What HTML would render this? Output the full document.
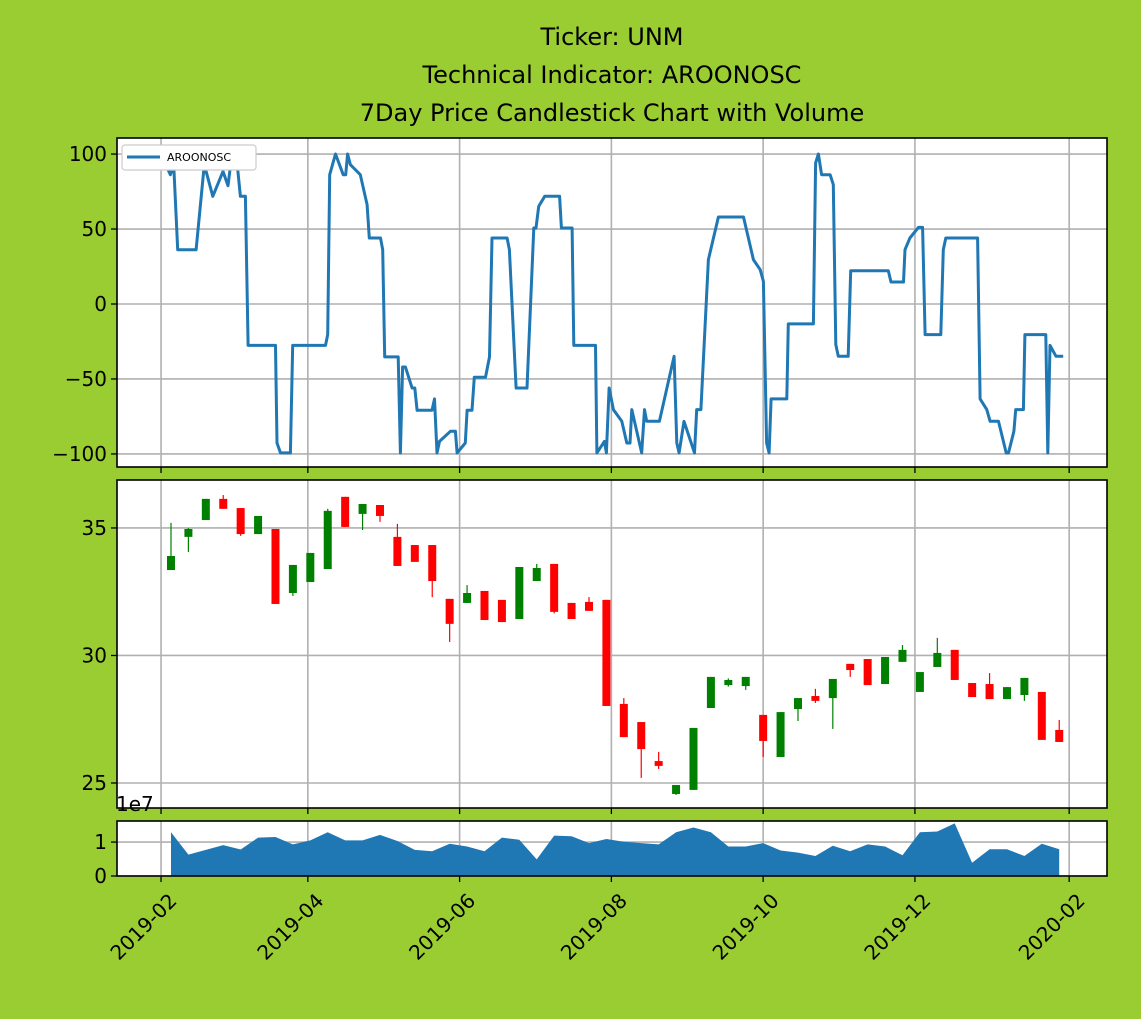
<!DOCTYPE html>
<html><head><meta charset="utf-8"><style>
html,body{margin:0;padding:0;background:#9acd32;}
svg{display:block;font-family:"DejaVu Sans","Liberation Sans",sans-serif;}
</style></head><body>
<svg id="chart" width="1141" height="1019" xmlns="http://www.w3.org/2000/svg">
<rect width="1141" height="1019" fill="#9acd32"/>
<g font-size="24" text-anchor="middle" fill="#000">
<text x="612" y="45">Ticker: UNM</text>
<text x="612" y="83">Technical Indicator: AROONOSC</text>
<text x="612" y="121">7Day Price Candlestick Chart with Volume</text>
</g>
<g id="top"></g><g id="mid"></g><g id="vol"></g><g id="xlab"></g>
</svg>
<script>
// ---- data ----
const aroonDays=[0,3.75,5.1,6.7,14.1,17.4,20.8,24.9,26.9,28.1,30.5,31.9,33.9,35,46,46.6,48,52,52.9,66.1,67,67.8,70.1,73.2,74.2,75,76.1,80.1,82.8,83.7,88.2,89.1,89.9,95.3,96.2,97.1,98.2,100.9,102,102.9,108.9,109.9,110.9,111.9,116.3,118.3,119,122.3,123,125,125.9,130.4,132,133,139.1,140,142.7,147.1,149.8,150.7,151.8,154.2,160.2,160.9,165.2,165.9,174.6,175.2,178.2,179,180.1,181.8,185.2,187.2,188.5,189.2,193.2,194.3,195.2,200.3,206.2,207.3,208.2,210.2,214.4,215.3,217,220,224,234.1,238.1,240.8,242.1,243.4,244.4,245.2,251.5,252.1,262.2,263.1,264.2,265.5,268.9,270.2,271.2,272.2,276.2,277.2,292.3,293.4,298.4,299,301,304.4,306.1,307.1,313.4,314.4,315.4,328.2,329.2,331.9,333.2,336.6,339.7,340.6,342.8,343.5,346.6,347.2,355.6,356.4,357.3,359.7,362.6];
const aroonVals=[100,86.2,92.9,36.2,36.2,92.9,71.8,88.4,78.9,95.1,95.1,71.8,71.8,-27.6,-27.6,-92.7,-99.3,-99.3,-27.6,-27.6,-20.4,86.2,100,86.2,86.2,100,92.9,86.2,66.2,44,44,36.2,-35.3,-35.3,-99.3,-42,-42,-56,-56,-70.9,-70.9,-63.3,-99.3,-91.6,-84.9,-84.9,-99.3,-92.7,-70.9,-70.9,-48.9,-48.9,-35.3,44,44,36.2,-56,-56,50.7,50.7,65.1,71.8,71.8,50.7,50.7,-27.6,-27.6,-99.3,-91.6,-99.3,-56,-70.4,-78.2,-92.7,-92.7,-70.4,-99.3,-70.4,-78.2,-78.2,-34.9,-92.7,-99.3,-78.2,-99.3,-70.4,-70.4,29.6,58,58,29.6,22.9,15.1,-92.7,-99.3,-63.3,-63.3,-13.3,-13.3,94,100,86.2,86.2,79.6,-27.1,-34.9,-34.9,22.2,22.2,14.7,14.7,36.2,44,51.1,51.1,-20.4,-20.4,36.2,44,44,-63.3,-70.4,-78.2,-78.2,-99.3,-99.3,-84.9,-70.4,-70.4,-20.4,-20.4,-99.3,-27.6,-34.9,-34.9];
const candleOpen=[33.35,34.65,35.31,36.14,35.78,34.76,34.96,32.45,32.88,33.39,36.22,35.55,35.90,34.65,34.33,34.33,32.22,32.06,32.53,32.18,31.43,32.92,33.59,32.06,32.10,32.18,28.10,27.39,25.86,24.57,24.73,27.94,28.84,28.80,27.67,26.02,27.90,28.41,28.33,29.67,29.86,28.88,29.75,28.57,29.55,30.22,28.92,28.88,28.29,28.45,28.57,27.08];
const candleClose=[33.90,34.96,36.14,35.75,34.76,35.47,32.02,33.55,34.02,35.67,35.04,35.94,35.47,33.51,33.67,32.92,31.24,32.45,31.39,31.31,33.47,33.43,31.71,31.43,31.75,28.02,26.80,26.33,25.67,24.92,27.16,29.16,29.04,29.16,26.65,27.78,28.33,28.22,29.08,29.43,28.84,29.94,30.22,29.35,30.10,29.04,28.37,28.29,28.76,29.12,26.69,26.61];
const candleHigh=[35.20,35.00,36.14,36.29,35.78,35.47,34.96,33.55,34.02,35.75,36.22,35.94,35.90,35.16,34.33,34.33,32.22,32.76,32.53,32.18,33.47,33.59,33.59,32.06,32.29,32.18,28.33,27.39,26.22,24.92,27.16,29.16,29.10,29.16,27.67,27.78,28.33,28.69,29.08,29.67,29.86,29.94,30.41,29.35,30.69,30.22,28.92,29.31,28.76,29.12,28.57,27.47];
const candleLow=[33.35,34.06,35.31,35.75,34.69,34.76,32.02,32.33,32.88,33.39,35.04,34.92,35.24,33.51,33.67,32.29,30.53,32.06,31.39,31.31,31.43,32.92,31.65,31.43,31.75,28.02,26.80,25.20,25.55,24.53,24.73,27.94,28.78,28.65,26.02,26.02,27.43,28.14,27.12,29.16,28.84,28.88,29.75,28.57,29.55,29.04,28.37,28.29,28.29,28.22,26.69,26.61];
const volumes=[1.29,0.63,0.77,0.91,0.78,1.13,1.15,0.93,1.05,1.29,1.05,1.05,1.21,1.03,0.77,0.73,0.95,0.87,0.73,1.13,1.07,0.49,1.19,1.17,0.97,1.09,1.01,0.97,0.93,1.29,1.43,1.29,0.87,0.87,0.97,0.75,0.69,0.59,0.89,0.73,0.93,0.87,0.61,1.29,1.31,1.55,0.39,0.79,0.79,0.59,0.95,0.79];
const firstCandleDay=4, candleStepDays=7;
const xTickLabels=["2019-02","2019-04","2019-06","2019-08","2019-10","2019-12","2020-02"];
const xTickDays=[0,59,120,181,242,303,365];
const aroonTicks=[100,50,0,-50,-100];
const priceTicks=[35,30,25];
const volTicks=[1,0];

// ---- layout ----
const NS="http://www.w3.org/2000/svg";
const L=117,R=1107;
const dayMin=-17.7,dayMax=380.2;
const xs=d=>L+(d-dayMin)/(dayMax-dayMin)*(R-L);
const P1={t:138,b:467,min:-108.7,max:110.7};
const P2={t:480,b:808,min:24.02,max:36.88};
const P3={t:821,b:876,min:0,max:1.62};
const ys=(p,v)=>p.b-(v-p.min)/(p.max-p.min)*(p.b-p.t);
function mk(tag,attrs,parent){const e=document.createElementNS(NS,tag);for(const k in attrs)e.setAttribute(k,attrs[k]);parent.appendChild(e);return e;}
function fmt(v){return v<0?"\u2212"+Math.abs(v):String(v);}

function panel(g,p,ticks,name,labelFmt){
  mk('rect',{x:L,y:p.t,width:R-L,height:p.b-p.t,fill:'#fff'},g);
  xTickDays.forEach(d=>{const l=mk('line',{x1:xs(d),x2:xs(d),y1:p.t,y2:p.b,stroke:'#b0b0b0','stroke-width':1.6},g);
    
    const t=mk('line',{x1:xs(d),x2:xs(d),y1:p.b,y2:p.b+6,stroke:'#000','stroke-width':1.3},g);
    });
  ticks.forEach(v=>{const y=ys(p,v);
    const l=mk('line',{x1:L,x2:R,y1:y,y2:y,stroke:'#b0b0b0','stroke-width':1.6},g);
    
    const tk=mk('line',{x1:L-6,x2:L,y1:y,y2:y,stroke:'#000','stroke-width':1.3},g);
    
    const tx=mk('text',{x:L-10,y:y+7,'text-anchor':'end','font-size':20,fill:'#000'},g);
    tx.textContent=labelFmt(v);
    });
}
function frame(g,p,name){const f=mk('rect',{x:L,y:p.t,width:R-L,height:p.b-p.t,fill:'none',stroke:'#000','stroke-width':1.6},g);
  }

// top
const gT=document.getElementById('top');

panel(gT,P1,aroonTicks,'aroon',fmt);
const pts=aroonDays.map((d,i)=>xs(d).toFixed(1)+','+ys(P1,aroonVals[i]).toFixed(1)).join(' ');
const line=mk('polyline',{points:pts,fill:'none',stroke:'#1f77b4','stroke-width':3,'stroke-linejoin':'round'},gT);

const lg=mk('g',{},gT);

mk('rect',{x:122,y:145,width:134,height:25,rx:3,fill:'#fff',stroke:'#ccc','stroke-width':1.2},lg);
mk('line',{x1:127,x2:160,y1:157,y2:157,stroke:'#1f77b4','stroke-width':3},lg);
const lt=mk('text',{x:167,y:161,'font-size':11,fill:'#000'},lg);lt.textContent='AROONOSC';

frame(gT,P1,'aroon');

// mid
const gM=document.getElementById('mid');

panel(gM,P2,priceTicks,'price',String);
candleOpen.forEach((o,i)=>{
  const c=candleClose[i],x=xs(firstCandleDay+i*candleStepDays);
  const col=c>=o?'#008000':'#ff0000';
  const w=mk('line',{x1:x,x2:x,y1:ys(P2,candleHigh[i]),y2:ys(P2,candleLow[i]),stroke:col,'stroke-width':1.2},gM);
  
  const top=ys(P2,Math.max(o,c)),bot=ys(P2,Math.min(o,c));
  const b=mk('rect',{x:x-4,y:top,width:8,height:Math.max(1,bot-top),fill:col},gM);
  
});
frame(gM,P2,'price');

// volume
const gV=document.getElementById('vol');

panel(gV,P3,volTicks,'volume',String);
let vp=xs(firstCandleDay).toFixed(1)+','+ys(P3,0)+' ';
volumes.forEach((v,i)=>{vp+=xs(firstCandleDay+i*candleStepDays).toFixed(1)+','+ys(P3,v).toFixed(1)+' ';});
vp+=xs(firstCandleDay+(volumes.length-1)*candleStepDays).toFixed(1)+','+ys(P3,0);
const area=mk('polygon',{points:vp,fill:'#1f77b4'},gV);

frame(gV,P3,'volume');
const ex=mk('text',{x:116,y:811,'font-size':20,fill:'#000'},gV);ex.textContent='1e7';


// x labels
const gX=document.getElementById('xlab');

xTickLabels.forEach((s,i)=>{const x=xs(xTickDays[i])+17,y=902;
  const t=mk('text',{x:x,y:y,'text-anchor':'end','font-size':20,fill:'#000',transform:`rotate(-45 ${x} ${y})`},gX);
  t.textContent=s;
  });
</script>
</body></html>
